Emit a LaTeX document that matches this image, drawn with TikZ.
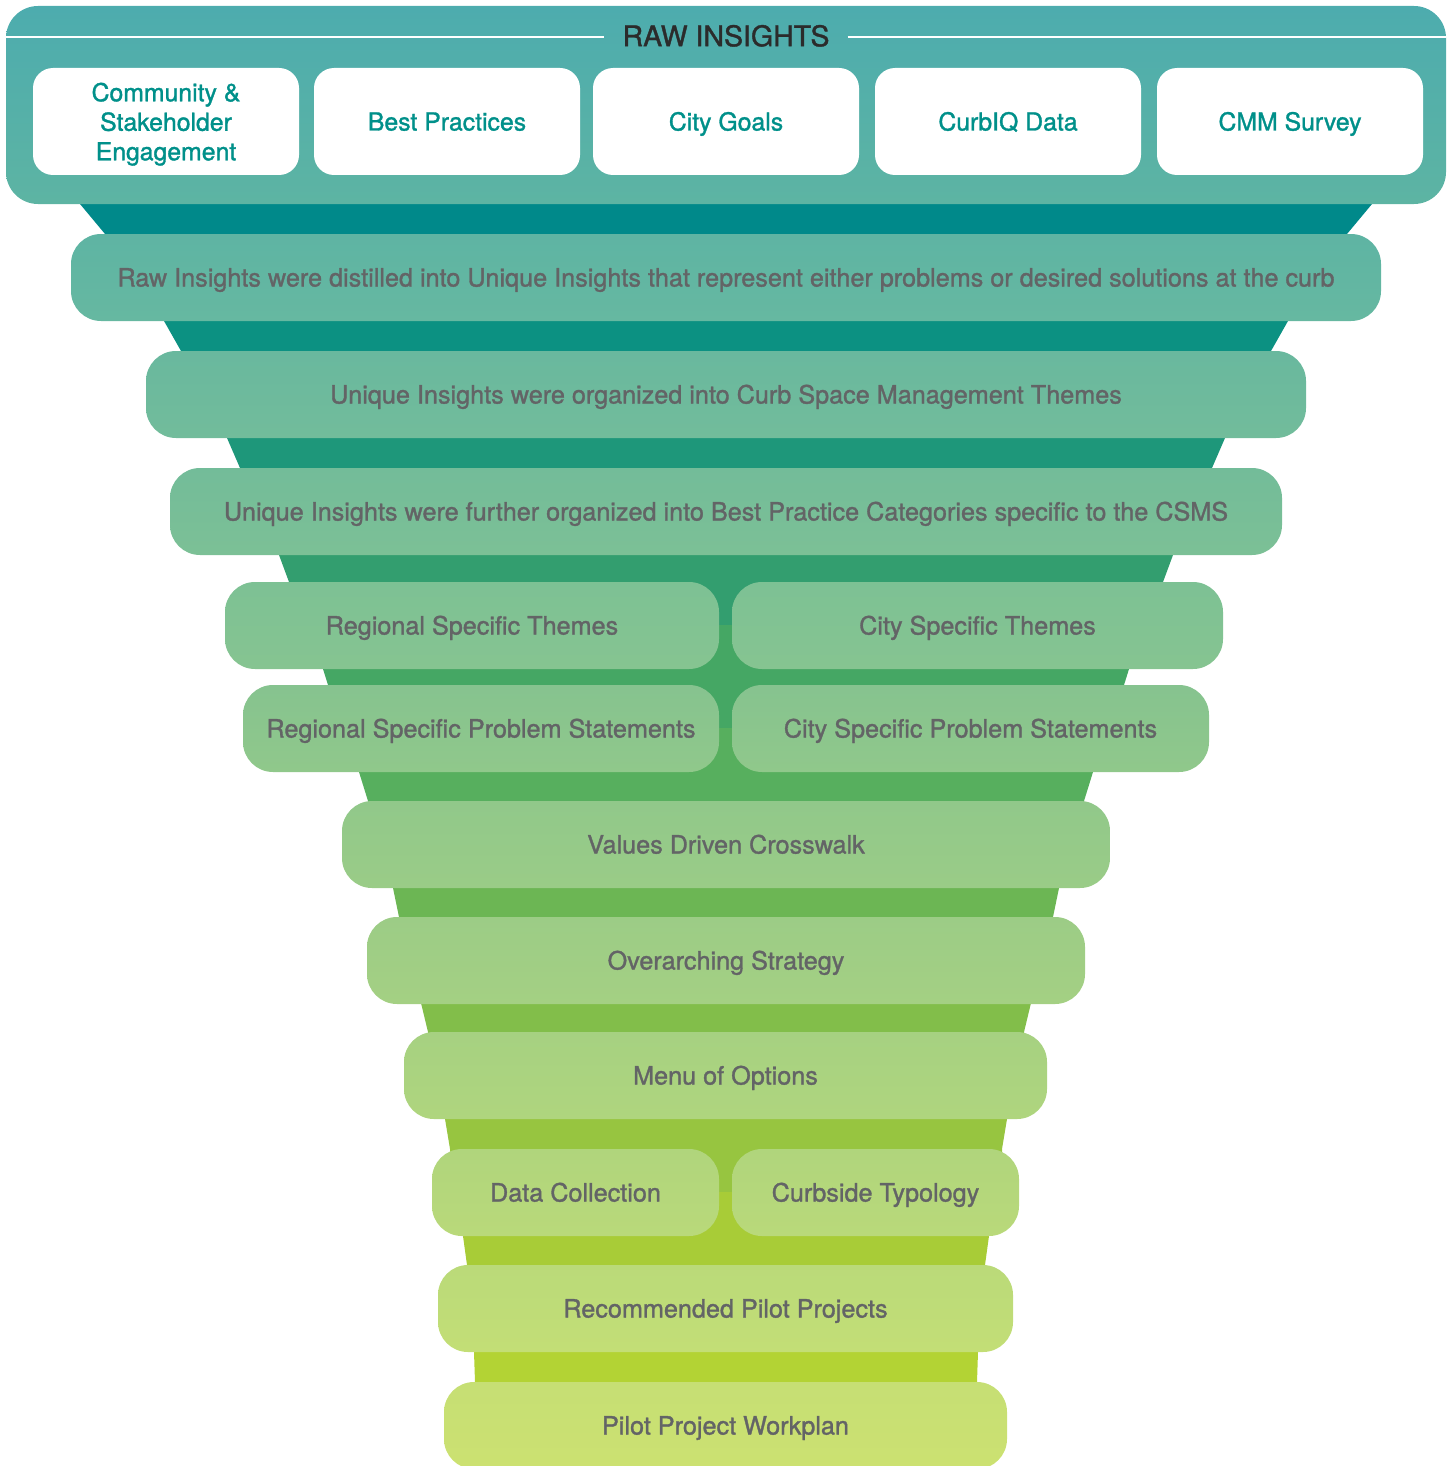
\documentclass[tikz,border=0pt]{standalone}
\usepackage{fontspec}
\newfontfamily\lab{TeX Gyre Heros}[FakeBold=1.3]
\definecolor{txt}{HTML}{636466}
\definecolor{srctxt}{HTML}{00908A}
\definecolor{ttl}{HTML}{2B2B2B}
\definecolor{panT}{HTML}{4DACAE}
\definecolor{panB}{HTML}{5DB4A3}
\definecolor{bA}{HTML}{00898A}
\definecolor{bB}{HTML}{0C9182}
\definecolor{bC}{HTML}{1E977A}
\definecolor{bD}{HTML}{339E6F}
\definecolor{bE}{HTML}{45A764}
\definecolor{bF}{HTML}{57AF5E}
\definecolor{bG}{HTML}{6CB654}
\definecolor{bH}{HTML}{82BE4A}
\definecolor{bI}{HTML}{97C540}
\definecolor{bJ}{HTML}{A8CC37}
\definecolor{bK}{HTML}{B3D334}
\definecolor{t1}{HTML}{5EB4A3}\definecolor{u1}{HTML}{66B8A1}
\definecolor{t2}{HTML}{69B89E}\definecolor{u2}{HTML}{72BC9B}
\definecolor{t3}{HTML}{73BC99}\definecolor{u3}{HTML}{7CC096}
\definecolor{t4}{HTML}{7DC194}\definecolor{u4}{HTML}{86C491}
\definecolor{t5}{HTML}{86C38F}\definecolor{u5}{HTML}{90C88B}
\definecolor{t6}{HTML}{91C88A}\definecolor{u6}{HTML}{9ACC87}
\definecolor{t7}{HTML}{9CCC86}\definecolor{u7}{HTML}{A4D083}
\definecolor{t8}{HTML}{A6D181}\definecolor{u8}{HTML}{AFD57E}
\definecolor{t9}{HTML}{B0D57C}\definecolor{u9}{HTML}{B9D97A}
\definecolor{t10}{HTML}{BADA79}\definecolor{u10}{HTML}{C3DE76}
\definecolor{t11}{HTML}{C6DF74}\definecolor{u11}{HTML}{CCE171}
\newcommand\fband[7]{%
  \fill[#1] ({726-#4},#2) -- ({726-#4},#3) -- ({726-#6},#5) -- ({726-#6},#7)
    -- ({726+#6},#7) -- ({726+#6},#5) -- ({726+#4},#3) -- ({726+#4},#2) -- cycle;}
\tikzset{
  stage/.style={rounded corners=30pt, minimum height=87pt, outer sep=0pt, inner sep=0pt,
    text height=18pt, text depth=0pt,
    text=txt, font=\lab\fontsize{25.2}{29}\selectfont},
  shade/.style={top color=t#1, bottom color=u#1},
  src/.style={fill=white, rounded corners=20pt, minimum width=266pt, minimum height=107pt,
    outer sep=0pt, inner sep=0pt, text=srctxt, align=center,
    text height=18pt, text depth=0pt,
    font=\lab\fontsize{24.8}{29.5}\selectfont},
}
\begin{document}
\begin{tikzpicture}[x=1pt,y=-1pt]
\path[use as bounding box] (0,0) rectangle (1452,1466);
% funnel bands
\fband{bA}{180}{204}{646}{234}{621}{277}
\fband{bB}{277}{321}{562}{351}{545}{394}
\fband{bC}{394}{438}{499}{468}{486}{511}
\fband{bD}{511}{555}{447}{582}{437}{625}
\fband{bE}{625}{669}{403}{685}{398}{728}
\fband{bF}{728}{772}{367}{801}{358}{844}
\fband{bG}{844}{888}{333}{917}{327}{960}
\fband{bH}{960}{1003}{305}{1032}{298}{1075}
\fband{bI}{1075}{1119}{281}{1149}{276}{1192}
\fband{bJ}{1192}{1236}{263}{1265}{259}{1308}
\fband{bK}{1308}{1352}{252}{1382}{251}{1425}
% top panel
\node[rounded corners=32pt, minimum width=1440pt, minimum height=198pt, outer sep=0pt,
  top color=panT, bottom color=panB] (panel) at (726,105) {};
\coordinate (lineL) at (6,37.5);
\coordinate (lineR) at (1446,37.5);
\node[text=ttl, font=\lab\fontsize{28.5}{32}\selectfont, inner sep=0pt,
  text height=20.5pt, text depth=0pt] (title) at (726,36) {RAW INSIGHTS};
\draw[white, line width=2pt] (lineL) -- ([xshift=-18pt]title.west |- lineL);
\draw[white, line width=2pt] ([xshift=18pt]title.east |- lineR) -- (lineR);
% source boxes
\node[src, text height=, text depth=0pt] (s1) at (166,121.5) {Community \&\\Stakeholder\\Engagement};
\node[src] (s2) at (447,121.5) {Best Practices};
\node[src] (s3) at (726,121.5) {City Goals};
\node[src] (s4) at (1008,121.5) {CurbIQ Data};
\node[src] (s5) at (1290,121.5) {CMM Survey};
% stages
\node[stage, shade=1, minimum width=1310pt] (st1) at (726,277.5)
  {Raw Insights were distilled into Unique Insights that represent either problems or desired solutions at the curb};
\node[stage, shade=2, minimum width=1160pt] (st2) at (726,394.5)
  {Unique Insights were organized into Curb Space Management Themes};
\node[stage, shade=3, minimum width=1112pt] (st3) at (726,511.5)
  {Unique Insights were further organized into Best Practice Categories specific to the CSMS};
\node[stage, shade=4, minimum width=494pt] (st4a) at (472,625.5) {Regional Specific Themes};
\node[stage, shade=4, minimum width=491pt] (st4b) at (977.5,625.5) {City Specific Themes};
\node[stage, shade=5, minimum width=476pt] (st5a) at (481,728.5) {Regional Specific Problem Statements};
\node[stage, shade=5, minimum width=477pt] (st5b) at (970.5,728.5) {City Specific Problem Statements};
\node[stage, shade=6, minimum width=768pt] (st6) at (726,844.5) {Values Driven Crosswalk};
\node[stage, shade=7, minimum width=718pt] (st7) at (726,960.5) {Overarching Strategy};
\node[stage, shade=8, minimum width=643pt] (st8) at (725.5,1075.5) {Menu of Options};
\node[stage, shade=9, minimum width=287pt] (st9a) at (575.5,1192.5) {Data Collection};
\node[stage, shade=9, minimum width=287pt] (st9b) at (875.5,1192.5) {Curbside Typology};
\node[stage, shade=10, minimum width=575pt] (st10) at (725.5,1308.5) {Recommended Pilot Projects};
\node[stage, shade=11, minimum width=563pt] (st11) at (725.5,1425.5) {Pilot Project Workplan};
\end{tikzpicture}
\end{document}
